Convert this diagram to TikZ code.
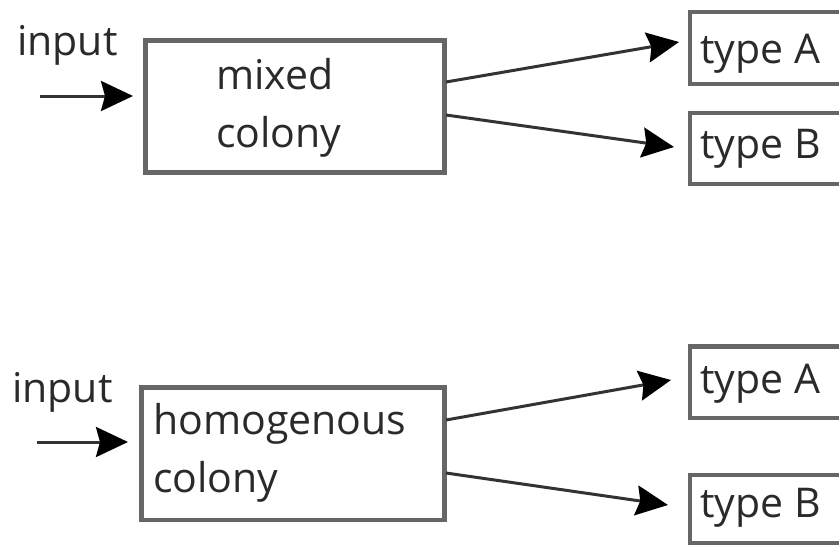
\documentclass[tikz,border=0pt]{standalone}
\usepackage{fontspec}
\setmainfont{Open Sans}
\usetikzlibrary{arrows.meta}
\definecolor{frame}{HTML}{666666}
\definecolor{ink}{HTML}{2A2A2A}
\definecolor{arr}{HTML}{333333}
\tikzset{
  boxframe/.style={draw=frame, line width=4.5pt, rectangle, inner sep=0pt},
  lbl/.style={text=ink, inner sep=0pt, font=\fontsize{41}{58}\selectfont, align=left, anchor=base west},
  conn/.style={draw=arr, line width=3pt, -{Stealth[length=32pt, width=30pt, inset=4pt, color=black]}},
}
\begin{document}
\begin{tikzpicture}[x=1pt, y=-1pt]
\useasboundingbox (0,0) rectangle (839,546);
\clip (0,0) rectangle (839,546);
% top group
\node[boxframe, minimum width=299pt, minimum height=132pt] (mix) at (295,106.5) {};
\node[lbl] (mixt) at (216,147) {mixed\\colony};
\node[lbl] (in1) at (17,55) {input};
\coordinate (s1) at (40,96);
\coordinate (e1) at (133,96);
\draw[conn] (s1) -- (e1);
\node[boxframe, minimum width=180pt, minimum height=72pt] (ta1) at (780,48) {};
\node[lbl] (ta1t) at (700,63) {type A};
\node[boxframe, minimum width=180pt, minimum height=71pt] (tb1) at (780,148.5) {};
\node[lbl] (tb1t) at (700,158) {type B};
\coordinate (a1s) at (446,82);
\coordinate (a1e) at (679,42);
\coordinate (b1s) at (446,115);
\coordinate (b1e) at (674,147);
\draw[conn] (a1s) -- (a1e);
\draw[conn] (b1s) -- (b1e);
% bottom group
\node[boxframe, minimum width=303pt, minimum height=132.5pt] (hom) at (293,453.75) {};
\node[lbl] (homt) at (153,492) {homogenous\\colony};
\node[lbl] (in2) at (12,402) {input};
\coordinate (s2) at (37,442);
\coordinate (e2) at (128,442);
\draw[conn] (s2) -- (e2);
\node[boxframe, minimum width=180pt, minimum height=71.5pt] (ta2) at (780,382.25) {};
\node[lbl] (ta2t) at (700,393) {type A};
\node[boxframe, minimum width=180pt, minimum height=68pt] (tb2) at (780,509) {};
\node[lbl] (tb2t) at (700,517) {type B};
\coordinate (a2s) at (446,420);
\coordinate (a2e) at (671,380);
\coordinate (b2s) at (446,473);
\coordinate (b2e) at (668,505);
\draw[conn] (a2s) -- (a2e);
\draw[conn] (b2s) -- (b2e);
\end{tikzpicture}
\end{document}
